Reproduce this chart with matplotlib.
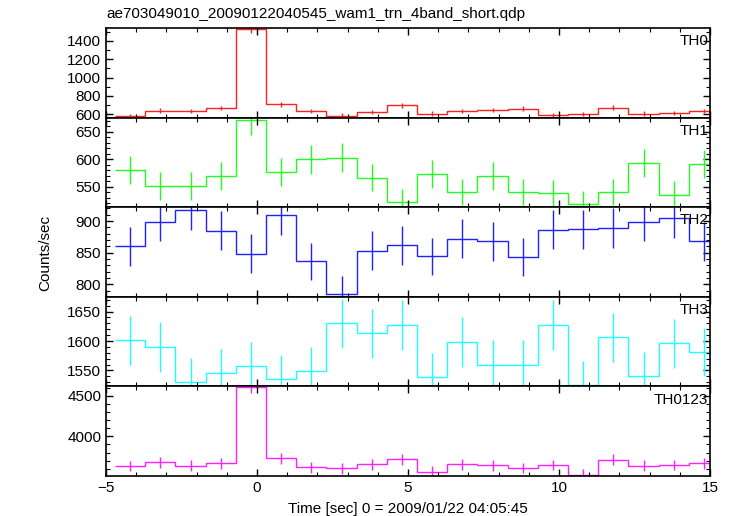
import matplotlib
matplotlib.use("Agg")
import matplotlib.pyplot as plt
from matplotlib.ticker import MultipleLocator

plt.rcParams["font.family"] = ["Liberation Sans", "DejaVu Sans"]

TITLE = "ae703049010_20090122040545_wam1_trn_4band_short.qdp"
XLABEL = "Time [sec] 0 = 2009/01/22 04:05:45"
YLABEL = "Counts/sec"

# time bins (1 s wide), centres in seconds
bin_centers = [-4.2, -3.2, -2.2, -1.2, -0.2, 0.8, 1.8, 2.8, 3.8, 4.8,
               5.8, 6.8, 7.8, 8.8, 9.8, 10.8, 11.8, 12.8, 13.8, 14.8]
bin_edges = [-4.7, -3.7, -2.7, -1.7, -0.7, 0.3, 1.3, 2.3, 3.3, 4.3, 5.3,
             6.3, 7.3, 8.3, 9.3, 10.3, 11.3, 12.3, 13.3, 14.3, 15.3]

th0 = [581, 640, 636, 669, 1524, 710, 636, 585, 625, 699,
       607, 636, 644, 662, 592, 603, 673, 607, 614, 636]
th0_err = [24, 25, 25, 26, 39, 27, 25, 24, 25, 26,
           25, 25, 25, 26, 24, 25, 26, 25, 25, 25]

th1 = [581, 552, 552, 570, 671, 577, 600, 603, 567, 522,
       573, 541, 570, 541, 539, 518, 541, 593, 536, 592]
th1_err = [25, 25, 25, 25, 27, 25, 26, 26, 25, 24,
           25, 24, 25, 24, 24, 24, 24, 25, 24, 25]

th2 = [860, 899, 918, 885, 848, 909, 836, 784, 853, 862,
       844, 872, 868, 843, 886, 887, 889, 899, 905, 868]
th2_err = [31, 31, 32, 31, 31, 31, 30, 29, 31, 31,
           30, 31, 31, 30, 31, 31, 31, 31, 31, 31]

th3 = [1601, 1590, 1530, 1545, 1557, 1536, 1549, 1630, 1613, 1627,
       1539, 1598, 1560, 1560, 1627, 1525, 1606, 1540, 1596, 1581]
th3_err = [42, 42, 41, 41, 41, 41, 41, 42, 41, 42,
           41, 42, 41, 41, 42, 41, 42, 41, 42, 41]

th0123 = [3634, 3680, 3638, 3671, 4605, 3729, 3617, 3605, 3655, 3717,
          3567, 3655, 3642, 3609, 3646, 3530, 3713, 3638, 3646, 3671]
th0123_err = [66, 67, 66, 67, 75, 67, 66, 66, 66, 67,
              65, 66, 66, 66, 66, 65, 67, 66, 66, 67]

panels = [
    ("TH0", th0, th0_err, "#ff2020", (563, 1540), 200, 100),
    ("TH1", th1, th1_err, "#20ff20", (513, 676), 50, 10),
    ("TH2", th2, th2_err, "#2020ff", (780, 922), 50, 10),
    ("TH3", th3, th3_err, "#20ffff", (1523, 1675), 50, 10),
    ("TH0123", th0123, th0123_err, "#ff20ff", (3512, 4615), 500, 100),
]

fig, axes = plt.subplots(len(panels), 1, figsize=(7.33, 5.16), dpi=100, sharex=True)
fig.subplots_adjust(left=0.1446, right=0.9686, top=0.9457, bottom=0.0775, hspace=0)

for ax, (name, values, errors, color, ylim, major, minor) in zip(axes, panels):
    ax.stairs(values, bin_edges, baseline=None, color=color, lw=1.0)
    ax.errorbar(bin_centers, values, yerr=errors, fmt="none", ecolor=color, elinewidth=1.0, capsize=0)
    ax.set_xlim(-5, 15)
    ax.set_ylim(*ylim)
    ax.yaxis.set_major_locator(MultipleLocator(major))
    ax.yaxis.set_minor_locator(MultipleLocator(minor))
    ax.xaxis.set_major_locator(MultipleLocator(5))
    ax.xaxis.set_minor_locator(MultipleLocator(1))
    ax.tick_params(which="both", direction="in", top=True, right=True, labelsize=11)
    ax.tick_params(which="major", length=5, width=1)
    ax.tick_params(which="minor", length=3, width=0.8)
    for spine in ax.spines.values():
        spine.set_linewidth(1.2)
    ax.text(0.997, 0.93, name, transform=ax.transAxes, ha="right", va="top", fontsize=11)

axes[0].set_title(TITLE, loc="left", fontsize=11, pad=7)
axes[-1].set_xlabel(XLABEL, fontsize=11, labelpad=5)
fig.text(0.062, 0.51, YLABEL, rotation=90, ha="center", va="center", fontsize=11)

fig.savefig("out.png", dpi=100)
